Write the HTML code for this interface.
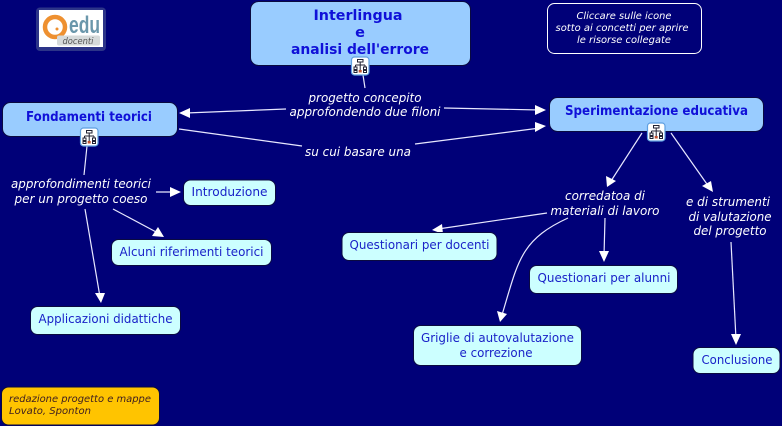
<!DOCTYPE html>
<html>
<head>
<meta charset="utf-8">
<style>
html,body{margin:0;padding:0;background:#000078;width:782px;height:426px;overflow:hidden}
svg{display:block}
text{font-family:"DejaVu Sans","Liberation Sans",sans-serif;text-anchor:middle}
.lk{font-size:12px;font-style:italic;fill:#fff}
.c{font-size:12px;fill:#1a22c8}
.m{font-size:13px;font-weight:bold;fill:#1010d8}
.t{font-size:14.5px;font-weight:bold;fill:#1010d8}
.n{font-size:10px;font-style:italic;fill:#fff}
.line{stroke:#e8e8ff;stroke-width:1.2;fill:none}
.ar{fill:#fff}
.mn{fill:#99ccff;stroke:#0a0a40;stroke-width:1}
.cn{fill:#ccffff;stroke:#0a0a40;stroke-width:1}
</style>
</head>
<body>
<svg width="782" height="426" viewBox="0 0 782 426" xmlns="http://www.w3.org/2000/svg">
<defs>
<g id="ic">
<rect x="0" y="0" width="17.5" height="18" rx="3" fill="#fff" stroke="#5f9fe0" stroke-width="1.2"/>
<g fill="none" stroke="#223" stroke-width="1">
<rect x="6" y="2.5" width="5.5" height="2.5"/>
<path d="M8.7 5V13M4 8H13.5M4 8V10M13.5 8V10"/>
<rect x="2.5" y="10" width="3" height="2.5"/>
<rect x="12" y="10" width="3" height="2.5"/>
<rect x="2.5" y="13.5" width="3" height="2"/>
<rect x="12" y="13.5" width="3" height="2"/>
</g>
<rect x="7.2" y="13" width="3" height="2.5" fill="#c05030"/>
</g>
</defs>

<rect width="782" height="426" fill="#000078"/>

<!-- logo -->
<rect x="36" y="7.5" width="70" height="43.5" rx="4" fill="#2c3488"/>
<rect x="39" y="10" width="64" height="37" fill="#fff"/>
<circle cx="55" cy="27" r="10" fill="none" stroke="#ee9030" stroke-width="4.5"/>
<circle cx="57" cy="29" r="1.5" fill="#ee9030"/>
<text x="84.5" y="33" style="font-family:'Liberation Sans',sans-serif;font-size:24px;font-weight:bold;fill:#6b97ab" textLength="31" lengthAdjust="spacingAndGlyphs">edu</text>
<rect x="57" y="35.5" width="43" height="10" rx="2" fill="#d6dada"/>
<text x="78" y="44" style="font-size:8.5px;font-style:italic;fill:#555" textLength="31" lengthAdjust="spacingAndGlyphs">docenti</text>

<!-- connectors -->
<path class="line" d="M363 75L365 88"/>
<path class="line" d="M286 109L186 113"/>
<path class="ar" d="M179 113L190 108L190 118Z"/>
<path class="line" d="M444 108L540 110"/>
<path class="ar" d="M546 110L535 105L535 115Z"/>
<path class="line" d="M179 129L302 146"/>
<path class="line" d="M415 144L540 128"/>
<path class="ar" d="M546 126L535 122L535 132Z"/>
<path class="line" d="M87 146L84 175"/>
<path class="line" d="M156 192L175 192"/>
<path class="ar" d="M181 192L170 187L170 197Z"/>
<path class="line" d="M113 209L158 233"/>
<path class="ar" d="M164 237L152 236L158 227Z"/>
<path class="line" d="M85 209L100 297"/>
<path class="ar" d="M101 303L95 293L105 293Z"/>
<path class="line" d="M642 133L611 181"/>
<path class="ar" d="M607 187L606 176L616 181Z"/>
<path class="line" d="M671 133L709 187"/>
<path class="ar" d="M713 192L702 186L711 181Z"/>
<path class="line" d="M547 213L438 229"/>
<path class="ar" d="M432 230L442 224L443 234Z"/>
<path class="line" d="M568 218C520 240 518 262 502 315"/>
<path class="ar" d="M500 322L497 311L507 314Z"/>
<path class="line" d="M605 218L604 256"/>
<path class="ar" d="M604 262L599 251L609 251Z"/>
<path class="line" d="M731 242L736 339"/>
<path class="ar" d="M736 345L731 334L741 334Z"/>

<!-- main concepts -->
<rect class="mn" x="250.5" y="1.5" width="220" height="64" rx="8"/>
<text class="t" x="358" y="20" textLength="89" lengthAdjust="spacingAndGlyphs">Interlingua</text>
<text class="t" x="360" y="37">e</text>
<text class="t" x="360" y="54" textLength="138" lengthAdjust="spacingAndGlyphs">analisi dell'errore</text>

<rect class="mn" x="2.5" y="102.5" width="175" height="34" rx="8"/>
<text class="m" x="89" y="121" textLength="126" lengthAdjust="spacingAndGlyphs">Fondamenti teorici</text>

<rect class="mn" x="549.5" y="97.5" width="214" height="34" rx="8"/>
<text class="m" x="656.5" y="115" textLength="183" lengthAdjust="spacingAndGlyphs">Sperimentazione educativa</text>

<!-- icons -->
<use href="#ic" x="351.5" y="57"/>
<use href="#ic" x="80.5" y="128"/>
<use href="#ic" x="647.5" y="123"/>

<!-- link labels -->
<text class="lk" x="365" y="102" textLength="113" lengthAdjust="spacingAndGlyphs">progetto concepito</text>
<text class="lk" x="365" y="116" textLength="151" lengthAdjust="spacingAndGlyphs">approfondendo due filoni</text>
<text class="lk" x="358" y="156" textLength="106" lengthAdjust="spacingAndGlyphs">su cui basare una</text>
<text class="lk" x="81" y="188" textLength="140" lengthAdjust="spacingAndGlyphs">approfondimenti teorici</text>
<text class="lk" x="81" y="203" textLength="133" lengthAdjust="spacingAndGlyphs">per un progetto coeso</text>
<text class="lk" x="605" y="200" textLength="80" lengthAdjust="spacingAndGlyphs">corredatoa di</text>
<text class="lk" x="605" y="215" textLength="109" lengthAdjust="spacingAndGlyphs">materiali di lavoro</text>
<text class="lk" x="728" y="206" textLength="84" lengthAdjust="spacingAndGlyphs">e di strumenti</text>
<text class="lk" x="730" y="221" textLength="83" lengthAdjust="spacingAndGlyphs">di valutazione</text>
<text class="lk" x="730" y="235" textLength="73" lengthAdjust="spacingAndGlyphs">del progetto</text>

<!-- leaf concepts -->
<rect class="cn" x="183.5" y="180" width="92" height="25.5" rx="7"/>
<text class="c" x="229.5" y="196" textLength="76" lengthAdjust="spacingAndGlyphs">Introduzione</text>
<rect class="cn" x="111.5" y="239.5" width="160" height="26" rx="7"/>
<text class="c" x="191.5" y="256" textLength="144" lengthAdjust="spacingAndGlyphs">Alcuni riferimenti teorici</text>
<rect class="cn" x="30.5" y="306.5" width="150" height="28" rx="7"/>
<text class="c" x="105.5" y="323" textLength="134" lengthAdjust="spacingAndGlyphs">Applicazioni didattiche</text>
<rect class="cn" x="342" y="232.5" width="155" height="28" rx="7"/>
<text class="c" x="419.5" y="249" textLength="140" lengthAdjust="spacingAndGlyphs">Questionari per docenti</text>
<rect class="cn" x="529.5" y="265.5" width="148" height="28" rx="7"/>
<text class="c" x="604" y="282" textLength="133" lengthAdjust="spacingAndGlyphs">Questionari per alunni</text>
<rect class="cn" x="413.5" y="325.5" width="168" height="40" rx="7"/>
<text class="c" x="497.5" y="342" textLength="153" lengthAdjust="spacingAndGlyphs">Griglie di autovalutazione</text>
<text class="c" x="496" y="357" textLength="73" lengthAdjust="spacingAndGlyphs">e correzione</text>
<rect class="cn" x="693" y="347.5" width="87" height="26" rx="7"/>
<text class="c" x="737" y="364" textLength="71" lengthAdjust="spacingAndGlyphs">Conclusione</text>

<!-- notes -->
<rect x="547.5" y="3.5" width="154" height="50" rx="7" fill="#000078" stroke="#fff" stroke-width="1"/>
<text class="n" x="624" y="19" textLength="95" lengthAdjust="spacingAndGlyphs">Cliccare sulle icone</text>
<text class="n" x="622" y="31" textLength="133" lengthAdjust="spacingAndGlyphs">sotto ai concetti per aprire</text>
<text class="n" x="624" y="43" textLength="94" lengthAdjust="spacingAndGlyphs">le risorse collegate</text>

<rect x="1.5" y="387" width="158" height="38" rx="7" fill="#ffc400" stroke="#0a0a40" stroke-width="1"/>
<text class="n" x="9" y="402" style="text-anchor:start;fill:#402020" textLength="142" lengthAdjust="spacingAndGlyphs">redazione progetto e mappe</text>
<text class="n" x="9" y="414" style="text-anchor:start;fill:#402020" textLength="82" lengthAdjust="spacingAndGlyphs">Lovato, Sponton</text>
</svg>
</body>
</html>
